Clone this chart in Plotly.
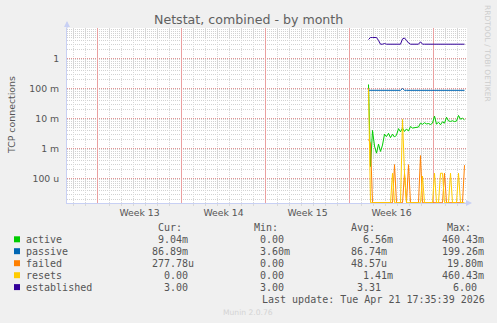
import plotly.graph_objects as go
import pandas as pd

# ---------------- data ----------------
sample_start = "2026-04-13 14:00"   # first sample, 4-hour samples
active = [0.136, 0.00025, 0.004, 0.0012, 0.0007, 0.0014, 0.0008, 0.0013, 0.003, 0.0025,
          0.0032, 0.0023, 0.003, 0.0024, 0.0028, 0.0046, 0.0036, 0.0048, 0.0037, 0.0045,
          0.0038, 0.0054, 0.0048, 0.005, 0.005, 0.0052, 0.007, 0.0064, 0.0072, 0.0066,
          0.0068, 0.0063, 0.007, 0.012, 0.0065, 0.0075, 0.0062, 0.0078, 0.007, 0.011,
          0.0083, 0.008, 0.0084, 0.0079, 0.0082, 0.0126, 0.0095, 0.0102, 0.00904]
passive = [0.087, 0.0869, 0.0869, 0.0869, 0.0869, 0.0869, 0.0869, 0.0869, 0.0869, 0.0869,
           0.0869, 0.0869, 0.0869, 0.0869, 0.0869, 0.0869, 0.0869, 0.1, 0.0869, 0.0869,
           0.0869, 0.0869, 0.0869, 0.0869, 0.0869, 0.0869, 0.0869, 0.0869, 0.0869, 0.0869,
           0.0869, 0.0869, 0.0869, 0.0869, 0.0869, 0.0869, 0.0869, 0.0869, 0.0869, 0.0869,
           0.0869, 0.0869, 0.0869, 0.0869, 0.0869, 0.0869, 0.0869, 0.0869, 0.0869]
failed = [0.002, 0.0015, 0, 0, 0, 0, 0, 0, 0, 0,
          0, 0, 0, 0.00029, 0, 0, 0, 0, 0.00015, 0,
          0.00029, 0, 0, 0, 0, 0, 0.00058, 0, 0, 0,
          0, 0, 0, 0, 0, 0, 0, 0, 0.00015, 0,
          0, 0, 0, 0, 0, 0, 0, 0, 0.000278]
resets = [0.1, 0, 0, 0, 0, 0, 0, 0, 0, 0,
          0, 0, 0.00015, 0, 0, 0, 0, 0.0093, 0.00015, 0,
          0, 0, 0, 0, 0, 0, 0, 0.00012, 0, 0,
          0, 0, 0, 0.00015, 0, 0, 0.00015, 0.00015, 0, 0,
          0, 0.00015, 0, 0, 0, 0.00015, 0, 0, 0]
established = [4.3, 5.0, 5.0, 5.0, 5.0, 4.0, 3.0, 3.0, 3.15, 3.0,
               3.0, 3.15, 3.0, 3.0, 3.0, 3.0, 3.0, 4.5, 4.8, 4.0,
               3.3, 3.0, 3.0, 3.0, 3.0, 3.0, 3.6, 3.0, 3.0, 3.0,
               3.0, 3.0, 3.15, 3.0, 3.0, 3.0, 3.0, 3.15, 3.0, 3.0,
               3.0, 3.0, 3.0, 3.0, 3.0, 3.0, 3.0, 3.0, 3.0]

series_names = ["active", "passive", "failed", "resets", "established"]
series_colors = ["#00cc00", "#0066b3", "#ff8000", "#ffcc00", "#330099"]
cur_vals = ["9.04m", "86.89m", "277.78u", "0.00", "3.00"]
min_vals = ["0.00", "3.60m", "0.00", "0.00", "3.00"]
avg_vals = ["6.56m", "86.74m", "48.57u", "1.41m", "3.31"]
max_vals = ["460.43m", "199.26m", "19.80m", "460.43m", "6.00"]

week_labels = ["Week 13", "Week 14", "Week 15", "Week 16"]
week_label_pos = ["2026-03-25 12:00", "2026-04-01 12:00", "2026-04-08 12:00", "2026-04-15 12:00"]
week_starts = ["2026-03-22", "2026-03-29", "2026-04-05", "2026-04-12", "2026-04-19"]
x_range = ["2026-03-19 11:00", "2026-04-21 19:00"]

y_tickvals = [1e-4, 1e-3, 1e-2, 1e-1, 1]
y_ticktext = ["100 u", "1 m", "10 m", "100 m", "1"]
y_log_range = [-4.81667, 1.01667]

title = "Netstat, combined - by month"
y_title = "TCP connections"
last_update = "Last update: Tue Apr 21 17:35:39 2026"
footer = "Munin 2.0.76"
side_text = "RRDTOOL / TOBI OETIKER"

# ---------------- layout geometry (pixels) ----------------
W, H = 497, 323
PL, PR, PT, PB = 67, 467, 28, 203


def px(x):
    return (x - PL) / (PR - PL)


def py(y):
    return (PB - y) / (PB - PT)


times = pd.date_range(sample_start, periods=len(active), freq="4h")
floor = 10 ** (y_log_range[0] + 0.01)  # zero values drawn on the bottom edge (log axis)

MGRID = "#e29494"
WGRID = "#eaa0a0"
GRID = "#d9d9d9"
AXIS = "#c8d0f4"
TXT = "#555555"

fig = go.Figure()

# week boundary grid lines (drawn as a line trace under the data)
wx, wy = [], []
for ws in week_starts:
    wx += [ws, ws, None]
    wy += [10 ** y_log_range[0], 10 ** y_log_range[1], None]
fig.add_trace(go.Scatter(x=wx, y=wy, mode="lines", line=dict(color=WGRID, width=1),
                         showlegend=False, hoverinfo="skip", connectgaps=False))

for name, col, vals in zip(series_names, series_colors,
                           [active, passive, failed, resets, established]):
    fig.add_trace(go.Scatter(
        x=times, y=[v if v > 0 else floor for v in vals], mode="lines", name=name,
        line=dict(color=col, width=1), showlegend=False, hoverinfo="skip"))

# dummy trace for label axis
fig.add_trace(go.Scatter(x=[week_label_pos[0]], y=[None], xaxis="x2", showlegend=False,
                         hoverinfo="skip", mode="lines"))

days = pd.date_range("2026-03-20", "2026-04-21", freq="D")
minor_days = [d for d in days if d.strftime("%Y-%m-%d") not in week_starts]
minor_y = [m * 10 ** e for e in range(-5, 2) for m in range(2, 10)]

fig.update_layout(
    width=W, height=H,
    margin=dict(l=PL, r=W - PR, t=PT, b=H - PB, pad=0),
    paper_bgcolor="#f0f0f0", plot_bgcolor="#ffffff",
    font=dict(family="DejaVu Sans", size=9.3, color=TXT),
    xaxis=dict(
        type="date", range=x_range, tickmode="array", tickvals=minor_days,
        showticklabels=False, showgrid=True, gridcolor=GRID, griddash="1px,1px", gridwidth=1,
        ticks="outside", ticklen=2, tickcolor=GRID,
        showline=True, linecolor=AXIS, linewidth=1, zeroline=False, fixedrange=True),
    xaxis2=dict(
        type="date", range=x_range, overlaying="x", anchor="y", side="bottom",
        tickmode="array", tickvals=week_label_pos, ticktext=week_labels,
        showgrid=False, ticks="", showline=False, zeroline=False,
        tickfont=dict(family="DejaVu Sans", size=9.3, color=TXT), ticklabelstandoff=3),
    yaxis=dict(
        type="log", range=y_log_range, tickmode="array", tickvals=y_tickvals, ticktext=y_ticktext,
        showgrid=True, gridcolor=MGRID, griddash="1px,1px", gridwidth=1, ticks="",
        minor=dict(tickmode="array", tickvals=minor_y, showgrid=True, gridcolor="#d2d2d2",
                   griddash="1px,1px", gridwidth=1),
        showline=True, linecolor=AXIS, linewidth=1, zeroline=False,
        tickfont=dict(family="DejaVu Sans", size=9.3, color=TXT), ticklabelstandoff=5),
)

shapes = []
ann = []
ann.append(dict(text=title, x=px(248.5), y=py(19), xref="paper", yref="paper",
                xanchor="center", yanchor="middle", showarrow=False,
                font=dict(family="DejaVu Sans", size=12.6, color="#606060")))
ann.append(dict(text=y_title, x=px(11), y=py(115), xref="paper", yref="paper",
                xanchor="center", yanchor="middle", showarrow=False, textangle=-90,
                font=dict(family="DejaVu Sans", size=9.4, color=TXT)))
ann.append(dict(text=side_text, x=px(488), y=py(53), xref="paper", yref="paper",
                xanchor="center", yanchor="middle", showarrow=False, textangle=90,
                font=dict(family="DejaVu Sans", size=7.5, color="#cdcdcd")))
ann.append(dict(text=footer, x=px(248), y=py(312.5), xref="paper", yref="paper",
                xanchor="center", yanchor="middle", showarrow=False,
                font=dict(family="DejaVu Sans", size=7.6, color="#d4d4d4")))
# axis arrows
ann.append(dict(text="", x=px(472), y=py(PB), ax=-9, ay=0, xref="paper", yref="paper",
                showarrow=True, arrowhead=2, arrowsize=1, arrowwidth=1.2, arrowcolor=AXIS))
ann.append(dict(text="", x=px(PL), y=py(21), ax=0, ay=9, xref="paper", yref="paper",
                showarrow=True, arrowhead=2, arrowsize=1, arrowwidth=1.2, arrowcolor=AXIS))

mono = dict(family="DejaVu Sans Mono", size=10, color=TXT)


def cell(text, x, y):
    ann.append(dict(text=text, x=px(x), y=py(y), xref="paper", yref="paper",
                    xanchor="left", yanchor="middle", showarrow=False,
                    borderpad=0, borderwidth=0, font=mono))


row_y = [239.3, 251.2, 263.2, 275.2, 287.1]
header_y = 227.5
for text, x in zip(["Cur:", "Min:", "Avg:", "Max:"], [158, 254, 351, 447]):
    cell(text, x, header_y)
cur_x = [158, 152, 152, 164, 164]
min_x = [260, 260, 260, 260, 260]
avg_x = [363, 351, 351, 363, 357]
max_x = [441.7, 441.7, 447, 441.7, 453]
for i, name in enumerate(series_names):
    y = row_y[i]
    cell(name, 26, y)
    cell(cur_vals[i], cur_x[i], y)
    cell(min_vals[i], min_x[i], y)
    cell(avg_vals[i], avg_x[i], y)
    cell(max_vals[i], max_x[i], y)
    shapes.append(dict(type="rect", xref="paper", yref="paper",
                       x0=px(14), x1=px(20), y0=py(y + 3), y1=py(y - 3),
                       fillcolor=series_colors[i], line=dict(width=0)))
cell(last_update, 261.7, 299.2)

fig.update_layout(annotations=ann, shapes=shapes)
fig.write_html("out.html")
